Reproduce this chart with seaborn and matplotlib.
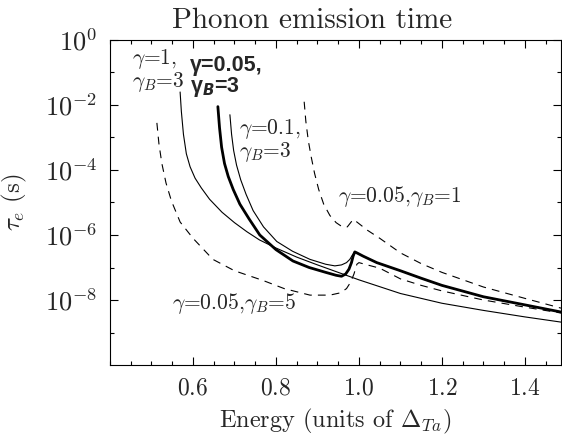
import numpy as np
import pandas as pd
import matplotlib
matplotlib.use("Agg")
import matplotlib.pyplot as plt
import seaborn as sns
from matplotlib.ticker import FixedLocator, FixedFormatter, MultipleLocator, NullFormatter

# ---------------- data (energy in units of Delta_Ta, log10 of tau_e in s) ----------------
e_g1_b3 = [0.569, 0.572, 0.577, 0.584, 0.593, 0.605, 0.62, 0.64, 0.67, 0.70, 0.73, 0.76,
           0.80, 0.85, 0.90, 0.95, 1.00, 1.10, 1.20, 1.30, 1.40, 1.487]
lt_g1_b3 = [-1.6, -2.2, -2.9, -3.5, -3.9, -4.25, -4.55, -4.9, -5.3, -5.62, -5.9, -6.15,
            -6.4, -6.68, -6.92, -7.15, -7.38, -7.8, -8.1, -8.32, -8.52, -8.68]

e_g005_b3 = [0.660, 0.664, 0.669, 0.676, 0.685, 0.697, 0.713, 0.735, 0.761, 0.80, 0.841, 0.88,
             0.92, 0.945, 0.958, 0.968, 0.976, 0.982, 0.986, 0.990, 0.995, 1.01, 1.043, 1.10,
             1.15, 1.20, 1.30, 1.40, 1.487]
lt_g005_b3 = [-2.05, -2.7, -3.3, -3.8, -4.2, -4.6, -5.05, -5.5, -6.0, -6.45, -6.8, -7.0,
              -7.15, -7.24, -7.27, -7.2, -7.05, -6.85, -6.65, -6.52, -6.55, -6.65, -6.85, -7.1,
              -7.33, -7.55, -7.9, -8.15, -8.37]

e_g01_b3 = [0.689, 0.693, 0.698, 0.705, 0.715, 0.728, 0.745, 0.77, 0.802, 0.84, 0.882, 0.92,
            0.942, 0.958, 0.970, 0.978, 0.984, 0.990, 0.995, 1.01, 1.043, 1.10, 1.15, 1.20,
            1.30, 1.40, 1.487]
lt_g01_b3 = [-2.3, -2.9, -3.4, -3.85, -4.3, -4.75, -5.25, -5.75, -6.2, -6.5, -6.75, -6.9,
             -6.95, -6.92, -6.85, -6.75, -6.62, -6.52, -6.55, -6.65, -6.85, -7.1, -7.33, -7.55,
             -7.9, -8.15, -8.37]

e_g005_b1 = [0.868, 0.872, 0.878, 0.885, 0.893, 0.903, 0.915, 0.93, 0.945, 0.960, 0.972, 0.980,
             0.986, 0.995, 1.02, 1.05, 1.10, 1.15, 1.20, 1.30, 1.40, 1.487]
lt_g005_b1 = [-1.9, -2.5, -3.1, -3.6, -4.1, -4.6, -5.05, -5.4, -5.62, -5.75, -5.75, -5.62,
              -5.52, -5.6, -5.85, -6.1, -6.55, -6.88, -7.15, -7.6, -7.95, -8.25]

e_g005_b5 = [0.513, 0.518, 0.525, 0.535, 0.548, 0.569, 0.60, 0.648, 0.70, 0.769, 0.82, 0.882,
             0.93, 0.955, 0.970, 0.980, 0.988, 0.995, 1.0, 1.02, 1.05, 1.10, 1.15, 1.20, 1.30,
             1.40, 1.487]
lt_g005_b5 = [-2.55, -3.2, -3.8, -4.4, -4.95, -5.6, -6.1, -6.75, -7.1, -7.4, -7.65, -7.85,
              -7.85, -7.78, -7.65, -7.45, -7.2, -6.9, -6.85, -6.92, -7.02, -7.35, -7.55, -7.72,
              -8.0, -8.22, -8.4]

curve_names = ["g1_b3", "g005_b3", "g01_b3", "g005_b1", "g005_b5"]
curve_e = [e_g1_b3, e_g005_b3, e_g01_b3, e_g005_b1, e_g005_b5]
curve_lt = [lt_g1_b3, lt_g005_b3, lt_g01_b3, lt_g005_b1, lt_g005_b5]

ytick_vals = [1e0, 1e-2, 1e-4, 1e-6, 1e-8]
ytick_labels = [r"$10^{0}$", r"$10^{-2}$", r"$10^{-4}$", r"$10^{-6}$", r"$10^{-8}$"]
yminor_vals = [1e-1, 1e-3, 1e-5, 1e-7, 1e-9]
xtick_vals = [0.6, 0.8, 1.0, 1.2, 1.4]
xtick_labels = [r"$0.6$", r"$0.8$", r"$1.0$", r"$1.2$", r"$1.4$"]

# ---------------- styling ----------------
sns.set_style("ticks")
plt.rcParams["font.family"] = ["cmr10", "DejaVu Serif"]
plt.rcParams["mathtext.fontset"] = "cm"
plt.rcParams["axes.formatter.use_mathtext"] = True

frames = []
for n, e, lt in zip(curve_names, curve_e, curve_lt):
    frames.append(pd.DataFrame({"energy": e, "tau": 10.0 ** np.asarray(lt), "curve": n}))
df = pd.concat(frames, ignore_index=True)

styles = {
    "g1_b3":   dict(linewidth=0.8, linestyle="-"),
    "g005_b3": dict(linewidth=2.0, linestyle="-"),
    "g01_b3":  dict(linewidth=0.8, linestyle="-"),
    "g005_b1": dict(linewidth=0.8, linestyle=(0, (7, 5.5))),
    "g005_b5": dict(linewidth=0.8, linestyle=(0, (7, 5.5))),
}

fig = plt.figure(figsize=(5.62, 4.36), dpi=100)
ax = fig.add_axes([110 / 562, 1 - 365 / 436, 451 / 562, 325 / 436])

for n in curve_names:
    sns.lineplot(data=df[df["curve"] == n], x="energy", y="tau", ax=ax, color="black",
                 sort=False, estimator=None, legend=False, **styles[n])

ax.set_yscale("log")
ax.set_ylim(1e-10, 1e0)
ax.set_xlim(0.4, 1.487)

ax.yaxis.set_major_locator(FixedLocator(ytick_vals))
ax.yaxis.set_major_formatter(FixedFormatter(ytick_labels))
ax.yaxis.set_minor_locator(FixedLocator(yminor_vals))
ax.yaxis.set_minor_formatter(NullFormatter())
ax.xaxis.set_major_locator(FixedLocator(xtick_vals))
ax.xaxis.set_major_formatter(FixedFormatter(xtick_labels))
ax.xaxis.set_minor_locator(MultipleLocator(0.05))

ax.tick_params(which="both", direction="in", top=True, right=True, color="black", width=0.8)
ax.tick_params(which="major", length=5.5, pad=8)
ax.tick_params(axis="y", which="major", labelsize=19, pad=9)
ax.tick_params(axis="x", which="major", labelsize=17, pad=9)
ax.tick_params(which="minor", length=3)
for s in ax.spines.values():
    s.set_linewidth(0.8)
    s.set_color("black")

ax.set_xlabel(r"Energy (units of $\Delta_{Ta}$)", fontsize=17.5)
ax.set_ylabel(r"$\tau_e$ (s)", fontsize=18)
ax.xaxis.set_label_coords(0.5, -0.128)
ax.yaxis.set_label_coords(-0.18, 0.5)

fig.text(312 / 562, 1 - 28 / 436, "Phonon emission time", fontsize=21, ha="center", va="baseline")

# curve labels (serif)
lab_fs = 15.5
ax.text(0.452, 10 ** -0.93, r"$\gamma$=1," + "\n" + r"$\gamma_B$=3", fontsize=lab_fs,
        va="center", ha="left", linespacing=0.95)
ax.text(0.712, 10 ** -3.1, r"$\gamma$=0.1," + "\n" + r"$\gamma_B$=3", fontsize=lab_fs,
        va="center", ha="left", linespacing=0.95)
ax.text(0.949, 10 ** -4.83, r"$\gamma$=0.05,$\gamma_B$=1", fontsize=lab_fs, va="center", ha="left")
ax.text(0.549, 10 ** -8.12, r"$\gamma$=0.05,$\gamma_B$=5", fontsize=lab_fs, va="center", ha="left")

# bold label (sans), one text object
ax.text(0.593, 10 ** -1.14, "γ=0.05,\nγ" + r"$_{\mathbfit{B}}$" + "=3",
        family="Liberation Sans", weight="bold", fontsize=15.5, va="center", ha="left",
        linespacing=0.95, math_fontfamily="dejavusans")

fig.savefig("out.png", dpi=100)
